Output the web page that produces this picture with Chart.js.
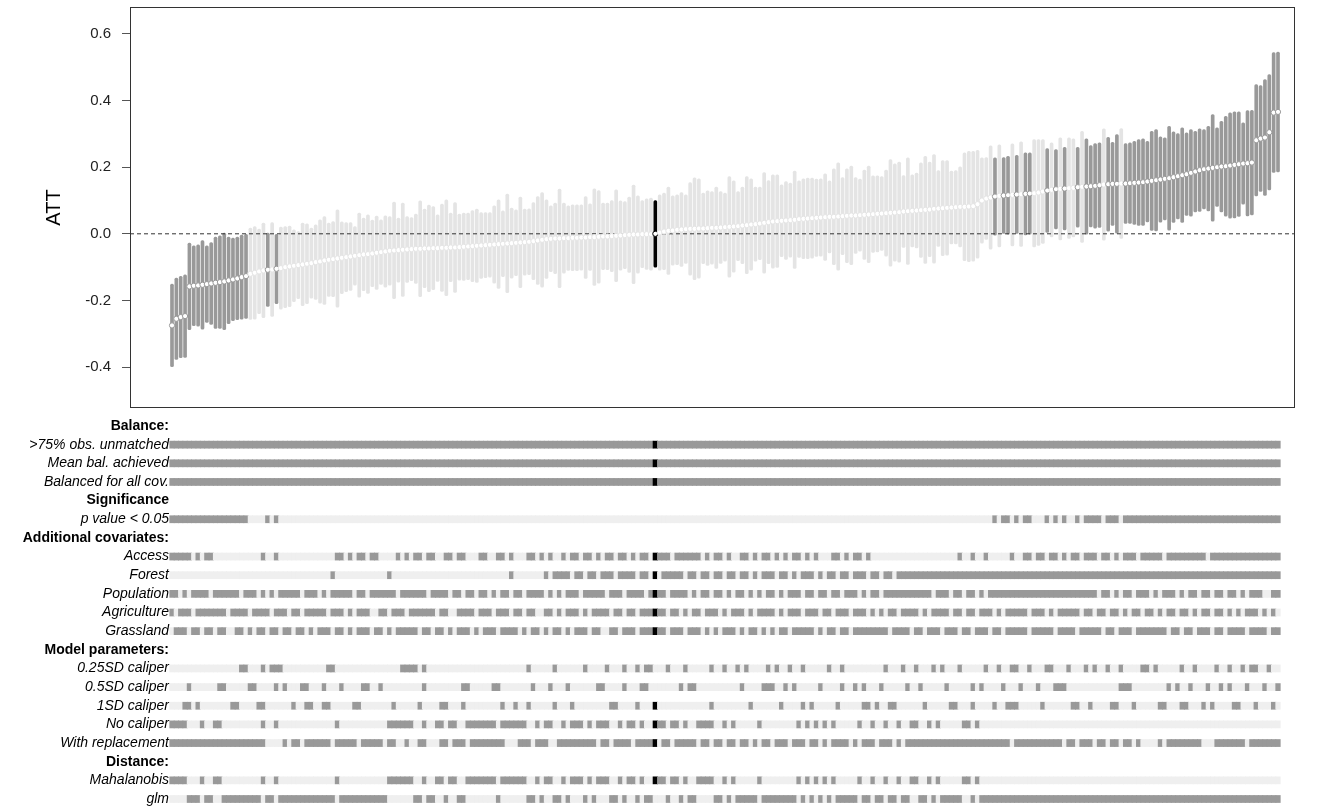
<!DOCTYPE html>
<html>
<head>
<meta charset="utf-8">
<title>Specification curve – ATT</title>
<script src="https://cdn.jsdelivr.net/npm/chart.js@4.4.1/dist/chart.umd.min.js"></script>
<style>
  html, body { margin: 0; padding: 0; background: #fff; }
  #wrap { position: relative; width: 1327px; height: 807px; }
  #attChart { position: absolute; left: 0; top: 0; }
  #specChart { position: absolute; left: 0; top: 415px; }
</style>
</head>
<body>
<div id="wrap">
  <canvas id="attChart" width="1327" height="415"></canvas>
  <canvas id="specChart" width="1327" height="392"></canvas>
</div>
<script>
/* --- Data: specifications sorted by ATT --- */
var ATT = [
  -0.275, -0.255, -0.250, -0.247, -0.158, -0.156, -0.155, -0.153, -0.151, -0.149,
  -0.147, -0.145, -0.143, -0.140, -0.137, -0.134, -0.130, -0.127, -0.120, -0.117,
  -0.113, -0.110, -0.108, -0.107, -0.105, -0.103, -0.100, -0.098, -0.096, -0.094,
  -0.092, -0.090, -0.088, -0.085, -0.083, -0.080, -0.078, -0.076, -0.074, -0.072,
  -0.070, -0.068, -0.066, -0.064, -0.062, -0.061, -0.059, -0.057, -0.055, -0.053,
  -0.051, -0.050, -0.049, -0.048, -0.047, -0.046, -0.045, -0.045, -0.044, -0.044,
  -0.043, -0.043, -0.042, -0.042, -0.041, -0.041, -0.040, -0.039, -0.038, -0.037,
  -0.036, -0.035, -0.034, -0.033, -0.032, -0.031, -0.030, -0.029, -0.028, -0.027,
  -0.026, -0.025, -0.024, -0.022, -0.020, -0.018, -0.016, -0.015, -0.014, -0.014,
  -0.013, -0.013, -0.012, -0.012, -0.011, -0.011, -0.010, -0.010, -0.009, -0.008,
  -0.008, -0.007, -0.006, -0.005, -0.004, -0.003, -0.002, -0.002, -0.001, -0.001,
  -0.001, 0.000, 0.004, 0.007, 0.009, 0.010, 0.012, 0.013, 0.014, 0.015,
  0.015, 0.016, 0.016, 0.017, 0.018, 0.018, 0.019, 0.020, 0.021, 0.022,
  0.023, 0.025, 0.026, 0.028, 0.029, 0.031, 0.033, 0.035, 0.037, 0.038,
  0.039, 0.040, 0.041, 0.042, 0.044, 0.045, 0.046, 0.047, 0.048, 0.049,
  0.050, 0.051, 0.051, 0.052, 0.053, 0.054, 0.055, 0.055, 0.056, 0.057,
  0.058, 0.059, 0.060, 0.061, 0.062, 0.063, 0.064, 0.065, 0.067, 0.068,
  0.069, 0.070, 0.071, 0.072, 0.073, 0.075, 0.076, 0.077, 0.078, 0.079,
  0.080, 0.081, 0.081, 0.082, 0.083, 0.089, 0.100, 0.106, 0.109, 0.112,
  0.114, 0.115, 0.116, 0.117, 0.118, 0.119, 0.120, 0.121, 0.122, 0.124,
  0.127, 0.130, 0.132, 0.134, 0.135, 0.136, 0.137, 0.138, 0.140, 0.141,
  0.142, 0.143, 0.144, 0.146, 0.148, 0.149, 0.150, 0.150, 0.151, 0.151,
  0.152, 0.153, 0.154, 0.155, 0.157, 0.159, 0.161, 0.163, 0.165, 0.167,
  0.170, 0.173, 0.176, 0.179, 0.183, 0.187, 0.191, 0.194, 0.196, 0.198,
  0.200, 0.202, 0.203, 0.205, 0.207, 0.209, 0.211, 0.212, 0.214, 0.281,
  0.286, 0.289, 0.305, 0.364, 0.366
];

// half width of each 95% interval
var CI_HALF = [
  0.124, 0.122, 0.122, 0.124, 0.130, 0.120, 0.122, 0.133, 0.115, 0.123,
  0.137, 0.139, 0.145, 0.130, 0.124, 0.124, 0.126, 0.127, 0.137, 0.139,
  0.127, 0.142, 0.110, 0.141, 0.105, 0.123, 0.122, 0.121, 0.108, 0.101,
  0.124, 0.120, 0.105, 0.112, 0.125, 0.132, 0.110, 0.113, 0.146, 0.108,
  0.104, 0.102, 0.088, 0.126, 0.109, 0.118, 0.100, 0.110, 0.097, 0.107,
  0.103, 0.145, 0.096, 0.140, 0.099, 0.095, 0.104, 0.144, 0.118, 0.130,
  0.125, 0.100, 0.131, 0.144, 0.103, 0.135, 0.099, 0.101, 0.100, 0.107,
  0.110, 0.099, 0.098, 0.097, 0.116, 0.133, 0.099, 0.148, 0.105, 0.099,
  0.136, 0.099, 0.099, 0.116, 0.132, 0.142, 0.118, 0.099, 0.106, 0.148,
  0.105, 0.097, 0.099, 0.099, 0.098, 0.123, 0.100, 0.145, 0.139, 0.100,
  0.100, 0.107, 0.138, 0.104, 0.101, 0.113, 0.148, 0.116, 0.101, 0.106,
  0.108, 0.100, 0.113, 0.115, 0.131, 0.104, 0.105, 0.111, 0.103, 0.139,
  0.153, 0.149, 0.106, 0.112, 0.109, 0.122, 0.108, 0.102, 0.151, 0.137,
  0.104, 0.115, 0.146, 0.137, 0.111, 0.109, 0.151, 0.125, 0.140, 0.139,
  0.108, 0.117, 0.111, 0.146, 0.115, 0.120, 0.121, 0.120, 0.116, 0.116,
  0.130, 0.108, 0.144, 0.161, 0.116, 0.141, 0.148, 0.114, 0.108, 0.134,
  0.145, 0.115, 0.114, 0.111, 0.129, 0.160, 0.146, 0.150, 0.108, 0.160,
  0.108, 0.112, 0.142, 0.161, 0.142, 0.163, 0.114, 0.143, 0.142, 0.109,
  0.110, 0.120, 0.162, 0.166, 0.165, 0.162, 0.128, 0.123, 0.155, 0.116,
  0.153, 0.114, 0.117, 0.153, 0.118, 0.157, 0.123, 0.122, 0.161, 0.159,
  0.156, 0.126, 0.141, 0.119, 0.153, 0.124, 0.151, 0.147, 0.120, 0.167,
  0.143, 0.122, 0.127, 0.127, 0.167, 0.141, 0.125, 0.148, 0.165, 0.120,
  0.121, 0.125, 0.129, 0.130, 0.121, 0.149, 0.152, 0.128, 0.123, 0.156,
  0.136, 0.128, 0.142, 0.124, 0.130, 0.121, 0.124, 0.119, 0.127, 0.160,
  0.118, 0.136, 0.150, 0.158, 0.159, 0.157, 0.122, 0.158, 0.157, 0.167,
  0.159, 0.174, 0.173, 0.180, 0.180
];

// p value < 0.05 (one character per specification)
var SIG =
  "1111111111 1111111100 0010100000 0000000000 0000000000 0000000000 0000000000 0000000000 " +
  "0000000000 0000000000 0000000000 0000000000 0000000000 0000000000 0000000000 0000000000 " +
  "0000000000 0000000000 0000000001 0110101100 0101010010 1111011101 1111111111 1111111111 " +
  "1111111111 11111";

var HIGHLIGHT = 111; // reference specification drawn in black

var ROW_UNMATCHED =
  "1111111111 1111111111 1111111111 1111111111 1111111111 1111111111 1111111111 1111111111 " +
  "1111111111 1111111111 1111111111 1111111111 1111111111 1111111111 1111111111 1111111111 " +
  "1111111111 1111111111 1111111111 1111111111 1111111111 1111111111 1111111111 1111111111 " +
  "1111111111 11111";
var ROW_MEANBAL = ROW_UNMATCHED;
var ROW_ALLCOV = ROW_UNMATCHED;

var ROW_ACCESS =
  "1111101011 0000000000 0100100000 0000000011 0101101100 0010101101 1001101100 0110011010 " +
  "0011010100 1011011010 1101101011 0111101111 1101011010 0110101101 0101101010 0011010110 " +
  "1000000000 0000000000 0100100100 0001001101 1011010110 1110110101 1101111101 1111111101 " +
  "1111111111 11111";
var ROW_FOREST =
  "0000000000 0000000000 0000000000 0000000100 0000000000 1000000000 0000000000 0000000010 " +
  "0000001011 1101101101 1101111011 0101111101 1011011011 0110101110 1101011101 0110110111 " +
  "0110110111 1111111111 1111111111 1111111111 1111111111 1111111111 1111111111 1111111111 " +
  "1111111111 11111";
var ROW_POPULATION =
  "1101011110 1111110111 0101011111 0111010111 1101101111 1101111110 1111011011 0110101101 " +
  "1011110101 0111011111 0111011110 1111011110 1011011010 1101010110 1011101101 1011011101 " +
  "0110111111 1111101110 1101101011 1111111111 1111111111 1110110101 1011101011 1010110110 " +
  "1101101011 10011";
var ROW_AGRICULTURE =
  "1011101111 1110111101 1110111011 0111110111 0101110011 0111011111 1011001111 0111011101 " +
  "1011001101 0111010111 1011011011 1111011010 1101110101 1101011110 1011101110 1101110111 " +
  "0101011011 1101011110 1101101110 1011111011 1010111110 1101101101 0110110101 1011010110 " +
  "1101010111 01010";
var ROW_GRASSLAND =
  "0111011011 0110011010 1101101101 1010111011 0101110110 1011111011 0110101110 1011101111 " +
  "0101101011 0101110110 0110111011 1111011101 1101010111 0101101010 1101111101 0110110111 " +
  "1111101111 0110111011 1011011101 1011111011 1110111101 1111011011 1011111110 1101101110 " +
  "1101111011 11011";
var ROW_CAL025 =
  "0000000000 0000001100 0101110000 0000001100 0000000000 0001111010 0000000000 0000000000 " +
  "0010000010 0000010000 1000100101 1000100010 0000100100 1010000101 0010010000 0100100000 " +
  "0000100010 0100010100 0100000100 1001100100 0110001000 1010010010 0001101000 0010010000 " +
  "1001001011 00100";
var ROW_CAL05 =
  "0000100000 0110000011 0000101000 1100010001 0000110010 0000000010 0000000110 0000110000 " +
  "0001000100 0100000011 0000100011 0000000101 1000000000 0100001110 0101000001 0000100101 " +
  "0001000001 0010000010 0000101000 0100010001 0001110000 0000000011 1000000001 0100100010 " +
  "0101000100 01001";
var ROW_CAL1 =
  "0001101000 0000110000 1100000010 0110011000 0011000000 0100000100 0011000100 0000001001 " +
  "0010000010 0010000000 0110000100 0100000000 0000100000 0001000000 1000010100 0001000001 " +
  "1010011000 0001000001 1000100001 0011100000 1000000110 0100001100 0100000110 0011000101 " +
  "0000110001 00010";
var ROW_NOCAL =
  "1111000100 1100000000 0100100000 0000000010 0000000000 1111110010 0110110011 1111101111 " +
  "1100101100 1011101011 1001011010 0111011010 0111100101 0000010000 0000101010 1010000010 " +
  "0100100100 1100101000 0011010000 0000000000 0000000000 0000000000 0000000000 0000000000 " +
  "0000000000 00000";
var ROW_REPLACE =
  "1111111111 1111111111 1100001011 0111111011 1110111110 1100100110 0011011101 1111111000 " +
  "1110111001 1111111101 1011110111 1101101111 1011011011 0110101101 1101110110 1011110101 " +
  "1101110101 1111111111 1111111111 1110111111 1111101101 1101101101 1010000101 1111111000 " +
  "1111111011 11111";
var ROW_MAHALANOBIS =
  "1111000100 1100000000 0100100000 0000000010 0000000000 1111110010 0110110011 1111101111 " +
  "1100101100 1011101011 1001011010 0111011010 0111100101 0000010000 0000101010 1010000010 " +
  "0100100100 1100101000 0011010000 0000000000 0000000000 0000000000 0000000000 0000000000 " +
  "0000000000 00000";
var ROW_GLM =
  "0000111011 0011111111 1011011111 1111111101 1111111111 0000001101 1001001100 0000010000 " +
  "0011010011 0100010100 0110100101 1000100101 1000011010 1111101111 1111010101 0101111101 " +
  "1011011011 0011010111 1100101111 1111111111 1111111111 1111111111 1111111111 1111111111 " +
  "1111111111 11111";

var Y_TICKS = [-0.4, -0.2, 0, 0.2, 0.4, 0.6];

var ROW_LABELS = [
  "Balance:", ">75% obs. unmatched", "Mean bal. achieved", "Balanced for all cov.",
  "Significance", "p value < 0.05",
  "Additional covariates:", "Access", "Forest", "Population", "Agriculture", "Grassland",
  "Model parameters:", "0.25SD caliper", "0.5SD caliper", "1SD caliper", "No caliper", "With replacement",
  "Distance:", "Mahalanobis", "glm"
];
var HEADER_ROWS = [0, 4, 6, 12, 18];

// label line -> indicator string
var ROW_SERIES = [
  [1, ROW_UNMATCHED], [2, ROW_MEANBAL], [3, ROW_ALLCOV],
  [5, SIG],
  [7, ROW_ACCESS], [8, ROW_FOREST], [9, ROW_POPULATION], [10, ROW_AGRICULTURE], [11, ROW_GRASSLAND],
  [13, ROW_CAL025], [14, ROW_CAL05], [15, ROW_CAL1], [16, ROW_NOCAL], [17, ROW_REPLACE],
  [19, ROW_MAHALANOBIS], [20, ROW_GLM]
];

/* --- Layout / style --- */
var FONT = '"Liberation Sans", Arial, Helvetica, sans-serif';
var DARK = "#999999";
var LIGHT_BAR = "#e4e4e4";
var LIGHT_TILE = "#efefef";
var W = 1327;
var PLOT_LEFT = 130, PLOT_RIGHT = 1295;
var FIRST_X = 172, LAST_X = 1278;
var ROW_LEFT = 171;
var ROW_STEP = 18.65, ROW_FIRST = 11, ROW_H = 392;

Chart.defaults.font.family = FONT;

function bits(s) {
  return s.replace(/\s+/g, "").split("").map(Number);
}

var N = ATT.length;
var PX = (LAST_X - FIRST_X) / (N - 1);
var sig = bits(SIG);

var barColors = ATT.map(function (v, i) {
  if (i === HIGHLIGHT) return "#000000";
  return sig[i] ? DARK : LIGHT_BAR;
});

/* draws the box round the plot area */
var framePlugin = {
  id: "frame",
  afterDatasetsDraw: function (chart) {
    var a = chart.chartArea, ctx = chart.ctx;
    ctx.save();
    ctx.strokeStyle = "#333";
    ctx.lineWidth = 1;
    ctx.strokeRect(Math.round(a.left) + 0.5, Math.round(a.top) + 0.5,
      Math.round(a.right - a.left) - 1, Math.round(a.bottom - a.top) - 1);
    ctx.restore();
  }
};

function zeroPadding(scale) {
  scale.paddingTop = 0;
  scale.paddingBottom = 0;
}

/* --- Top panel: ATT with intervals --- */
var xMinTop = -(FIRST_X - PLOT_LEFT) / PX;
var xMax = (N - 1) + (PLOT_RIGHT - LAST_X) / PX;

new Chart(document.getElementById("attChart"), {
  type: "bar",
  data: {
    datasets: [
      {
        type: "scatter",
        data: ATT.map(function (v, i) { return { x: i, y: v }; }),
        pointRadius: 2.6,
        pointBorderWidth: 1,
        pointBackgroundColor: "#ffffff",
        pointBorderColor: barColors,
        order: 0
      },
      {
        type: "line",
        data: [{ x: xMinTop, y: 0 }, { x: xMax, y: 0 }],
        borderColor: "#333",
        borderWidth: 1,
        borderDash: [4, 3],
        pointRadius: 0,
        order: 1
      },
      {
        type: "bar",
        data: ATT.map(function (v, i) {
          return { x: i, y: [v - CI_HALF[i], v + CI_HALF[i]] };
        }),
        backgroundColor: barColors,
        barThickness: 3,
        borderRadius: 1.5,
        borderSkipped: false,
        order: 2
      }
    ]
  },
  options: {
    responsive: false,
    animation: false,
    events: [],
    layout: { padding: { left: 0, right: W - PLOT_RIGHT, top: 7, bottom: 7 } },
    plugins: { legend: { display: false }, tooltip: { enabled: false } },
    scales: {
      x: { type: "linear", display: false, min: xMinTop, max: xMax, offset: false },
      y: {
        min: -0.523,
        max: 0.681,
        afterFit: function (s) { s.width = PLOT_LEFT; zeroPadding(s); },
        afterBuildTicks: function (s) {
          s.ticks = Y_TICKS.map(function (v) { return { value: v }; });
        },
        ticks: {
          padding: 11,
          color: "#222",
          font: { size: 15 },
          callback: function (v) { return Math.abs(v) < 1e-9 ? "0.0" : v.toFixed(1); }
        },
        grid: { drawOnChartArea: false, drawTicks: true, tickLength: 8, color: "#555" },
        border: { display: false },
        title: {
          display: true,
          text: "ATT",
          color: "#000",
          font: { size: 20 },
          padding: { top: 42, bottom: 0 }
        }
      }
    }
  },
  plugins: [framePlugin]
});

/* --- Bottom panel: specification indicators --- */
var xMinBottom = -(FIRST_X - ROW_LEFT) / PX;
var yMinRows = -ROW_FIRST / ROW_STEP;
var yMaxRows = yMinRows + ROW_H / ROW_STEP;

var rowDatasets = ROW_SERIES.map(function (r) {
  var k = r[0];
  var flags = bits(r[1]);
  return {
    data: flags.map(function (f, i) { return { x: i, y: [k - 0.19, k + 0.19] }; }),
    backgroundColor: flags.map(function (f, i) {
      if (!f) return LIGHT_TILE;
      return i === HIGHLIGHT ? "#000000" : DARK;
    }),
    barThickness: 4.6,
    grouped: false,
    clip: false,
    borderWidth: 0
  };
});

new Chart(document.getElementById("specChart"), {
  type: "bar",
  data: { datasets: rowDatasets },
  options: {
    responsive: false,
    animation: false,
    events: [],
    layout: { padding: { left: 0, right: W - PLOT_RIGHT, top: 0, bottom: 0 } },
    plugins: { legend: { display: false }, tooltip: { enabled: false } },
    scales: {
      x: { type: "linear", display: false, min: xMinBottom, max: xMax, offset: false },
      y: {
        reverse: true,
        min: yMinRows,
        max: yMaxRows,
        afterFit: function (s) { s.width = ROW_LEFT; zeroPadding(s); },
        afterBuildTicks: function (s) {
          s.ticks = ROW_LABELS.map(function (t, k) { return { value: k }; });
        },
        ticks: {
          autoSkip: false,
          padding: 2,
          color: "#000",
          font: function (ctx) {
            return HEADER_ROWS.indexOf(ctx.index) >= 0
              ? { size: 14, weight: "bold" }
              : { size: 14, style: "italic" };
          },
          callback: function (v) { return ROW_LABELS[Math.round(v)]; }
        },
        grid: { display: false, drawTicks: false },
        border: { display: false }
      }
    }
  }
});
</script>
</body>
</html>
